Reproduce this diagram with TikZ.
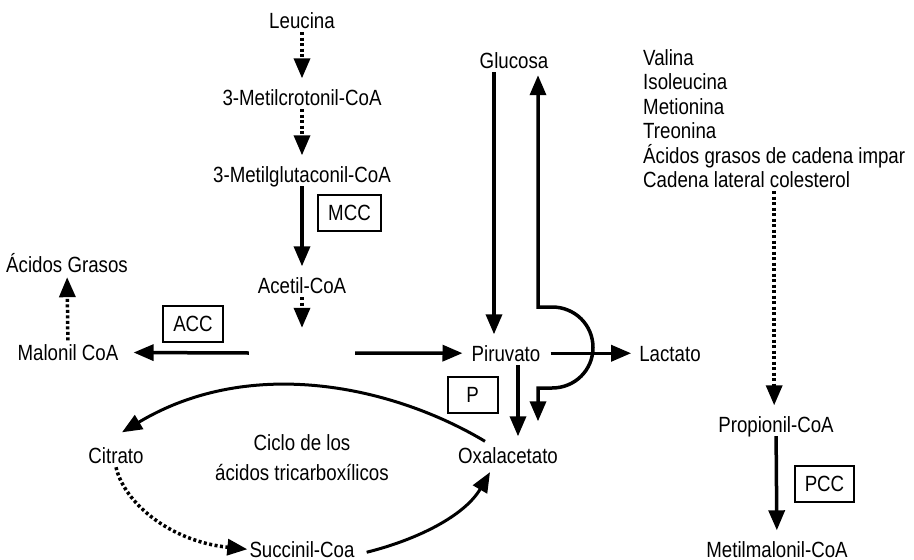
\documentclass[tikz,border=0pt]{standalone}
\usepackage{fontspec}
\setmainfont{Liberation Sans}[FakeStretch=0.85]
\usetikzlibrary{arrows.meta,calc}

\begin{document}
\begin{tikzpicture}[x=1pt,y=-1pt,
        >={Triangle[length=20pt,width=16pt]},
        txt/.style={font=\fontsize{22pt}{24.5pt}\selectfont},
        met/.style={txt, text height=15.5pt, text depth=0pt, inner xsep=2pt, inner ysep=4pt, anchor=base},
        enz/.style={txt, draw, line width=2pt, text height=15.5pt, text depth=0pt, minimum width=50pt, minimum height=36pt, inner xsep=10pt},
        flow/.style={->, line width=3.5pt, shorten >=7pt},
        dots/.style={flow, dash pattern=on 3pt off 2.5pt}
    ]
    \useasboundingbox (0,0) rectangle (914,560);

    % leucina branch
    \node[met] (leu) at (302,28) {Leucina};
    \node[met] (mcr) at (302,105) {3-Metilcrotonil-CoA};
    \node[met] (mgl) at (302,182) {3-Metilglutaconil-CoA};
    \node[met] (aco) at (302,293) {Acetil-CoA};
    \node[minimum width=106pt, minimum height=36pt, inner sep=0pt] (hub) at (302,353) {};
    \node[met] (agr) at (67,272) {Ácidos Grasos};
    \node[met] (mal) at (68,360) {Malonil CoA};

    % glucosa / piruvato
    \node[met] (glu) at (514,68) {Glucosa};
    \node[met] (pir) at (506,361) {Piruvato};
    \node[met] (lac) at (670,361) {Lactato};

    % ciclo
    \node[met] (oxa) at (508,463) {Oxalacetato};
    \node[met] (cit) at (116,463) {Citrato};
    \node[met] (suc) at (302,557) {Succinil-Coa};
    \node[txt, align=center, font=\fontsize{22pt}{30pt}\selectfont] (tca) at (302,457.5) {Ciclo de los\\ácidos tricarboxílicos};

    % propionil branch
    \node[txt, align=left, anchor=north west, inner sep=3pt] (src) at (640,46)
        {Valina\\Isoleucina\\Metionina\\Treonina\\Ácidos grasos de cadena impar\\Cadena lateral colesterol};
    \node[met] (pro) at (776,432) {Propionil-CoA};
    \node[met] (mmc) at (777,557) {Metilmalonil-CoA};

    \foreach \n/\x/\y/\t in {mcc/349.5/213/MCC, acc/193/324/ACC, pyc/472.5/395/P, pcc/824.5/483.5/PCC}
        \node[enz] (\n) at (\x,\y) {\t};

    \draw[dots] (leu) -- (mcr);
    \draw[dots] (mcr) -- (mgl);
    \draw[flow] (mgl) -- (aco);
    \draw[dots] (aco) -- (hub);
    \draw[flow, shorten >=13pt] (hub.west) -- (mal);
    \draw[flow] (hub.east) -- (pir);
    \draw[dots, shorten >=1pt] (mal) -- (agr);

    \draw[flow] ($(glu.south)+(-20,0)$) -- ($(pir.north)+(-12,0)$);
    \draw[flow, <->, shorten <=3pt, shorten >=22pt] ($(glu.south)+(24,0)$) |- (552,307)
        .. controls (575,307) and (593,325) .. (593,347.5)
        .. controls (593,370) and (575,388) .. (552,388) -| ($(oxa.north)+(30,0)$);
    \draw[flow, shorten <=8pt, shorten >=6pt] (pir) -- (lac);
    \draw[flow] ($(pir.south)+(12,0)$) -- ($(oxa.north)+(10,0)$);

    \draw[flow, line width=3pt, shorten >=0pt] ($(oxa.north)+(-23,-2)$) .. controls +(-90,-54) and +(130,-78) .. ($(cit.north)+(6,-11)$);
    \draw[dots, shorten >=0pt] (cit.south) .. controls +(8,35) and +(-78,-8) .. (suc.west);
    \draw[flow, line width=3pt, shorten >=0pt] ($(suc.east)+(10,3)$) .. controls +(52,-13) and +(-25,43) .. ($(oxa.south)+(-18,5)$);

    \draw[dots] (src.south) -- (src.south |- pro.north);
    \draw[flow] (pro) -- (mmc);
\end{tikzpicture}
\end{document}
